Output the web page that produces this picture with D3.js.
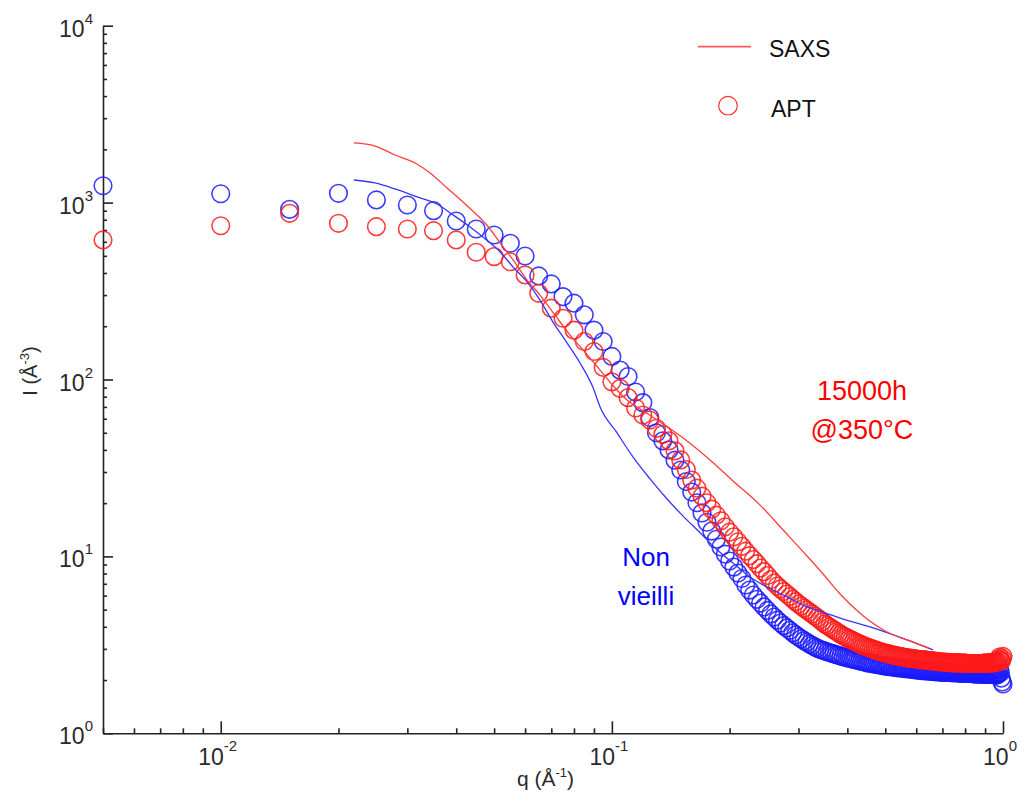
<!DOCTYPE html>
<html><head><meta charset="utf-8">
<script src="https://cdn.jsdelivr.net/npm/d3@7"></script>
<style>body{margin:0;background:#fff}</style>
</head><body>
<svg id="c" width="1028" height="794"></svg>
<script>
// ---- data ----
const qApt = [
0.005,0.01,0.015,0.02,0.025,0.03,0.035,0.04,0.045,0.05,
0.055,0.06,0.065,0.07,0.075,0.08,0.085,0.09,0.095,0.1,
0.105,0.11,0.115,0.12,0.125,0.13,0.135,0.14,0.145,0.15,
0.155,0.16,0.165,0.17,0.175,0.18,0.185,0.19,0.195,0.2,
0.205,0.21,0.215,0.22,0.225,0.23,0.235,0.24,0.245,0.25,
0.255,0.26,0.265,0.27,0.275,0.28,0.285,0.29,0.295,0.3,
0.305,0.31,0.315,0.32,0.325,0.33,0.335,0.34,0.345,0.35,
0.355,0.36,0.365,0.37,0.375,0.38,0.385,0.39,0.395,0.4,
0.405,0.41,0.415,0.42,0.425,0.43,0.435,0.44,0.445,0.45,
0.455,0.46,0.465,0.47,0.475,0.48,0.485,0.49,0.495,0.5,
0.505,0.51,0.515,0.52,0.525,0.53,0.535,0.54,0.545,0.55,
0.555,0.56,0.565,0.57,0.575,0.58,0.585,0.59,0.595,0.6,
0.605,0.61,0.615,0.62,0.625,0.63,0.635,0.64,0.645,0.65,
0.655,0.66,0.665,0.67,0.675,0.68,0.685,0.69,0.695,0.7,
0.705,0.71,0.715,0.72,0.725,0.73,0.735,0.74,0.745,0.75,
0.755,0.76,0.765,0.77,0.775,0.78,0.785,0.79,0.795,0.8,
0.805,0.81,0.815,0.82,0.825,0.83,0.835,0.84,0.845,0.85,
0.855,0.86,0.865,0.87,0.875,0.88,0.885,0.89,0.895,0.9,
0.905,0.91,0.915,0.92,0.925,0.93,0.935,0.94,0.945,0.95,
0.955,0.96,0.965,0.97,0.975,0.98,0.985,0.99,0.995,1.0];

const aptNonVieilli = [
1245,1122,916,1129,1035,969,900,787,709,656,
589,499,385,347,294,270,232,190,164,135,
113,104,85,74,61,50,45,40,35,30.8,
26.5,23.1,20.1,17.6,15.6,13.9,12.5,11.3,10.3,9.42,
8.7,8.05,7.5,6.89,6.45,6.05,5.72,5.45,5.18,4.95,
4.73,4.54,4.36,4.2,4.06,3.94,3.82,3.7,3.6,3.5,
3.42,3.34,3.27,3.2,3.14,3.08,3.03,2.98,2.95,2.92,
2.89,2.86,2.83,2.81,2.78,2.76,2.73,2.71,2.69,2.67,
2.65,2.63,2.62,2.6,2.58,2.57,2.55,2.54,2.52,2.5,
2.49,2.48,2.47,2.46,2.45,2.44,2.43,2.42,2.41,2.4,
2.39,2.39,2.38,2.37,2.37,2.36,2.35,2.35,2.34,2.34,
2.33,2.33,2.32,2.32,2.31,2.31,2.3,2.3,2.29,2.28,
2.28,2.27,2.27,2.27,2.26,2.26,2.26,2.25,2.25,2.25,
2.24,2.24,2.24,2.23,2.23,2.23,2.23,2.22,2.22,2.22,
2.22,2.22,2.21,2.21,2.21,2.21,2.21,2.2,2.2,2.2,
2.2,2.2,2.2,2.19,2.19,2.19,2.19,2.19,2.19,2.19,
2.18,2.18,2.18,2.18,2.18,2.18,2.18,2.17,2.17,2.17,
2.17,2.17,2.17,2.17,2.16,2.16,2.16,2.16,2.16,2.16,
2.16,2.16,2.15,2.15,2.15,2.15,2.15,2.15,2.15,2.15,
2.14,2.14,2.14,2.15,2.2,2.3,2.2,2.05,1.95,1.9];

const apt15000h = [
615,740,870,764,731,709,694,615,524,495,
463,390,307,253,222,190,164,144,117,97,
89,79,69,63,59,53,49,45,39.5,35.1,
31,27,24.3,21.9,20.1,18.5,17.1,15.9,14.7,13.7,
12.9,12.1,11.4,10.7,10.1,9.6,9.1,8.6,8.2,7.8,
7.4,7.07,6.8,6.55,6.33,6.13,5.93,5.73,5.55,5.38,
5.24,5.1,4.97,4.85,4.73,4.61,4.5,4.39,4.27,4.15,
4.07,3.99,3.91,3.83,3.76,3.69,3.62,3.56,3.51,3.46,
3.41,3.37,3.32,3.28,3.24,3.2,3.17,3.13,3.1,3.07,
3.04,3.02,2.99,2.97,2.94,2.92,2.9,2.88,2.86,2.84,
2.83,2.81,2.8,2.78,2.77,2.76,2.74,2.73,2.72,2.71,
2.7,2.69,2.68,2.67,2.66,2.66,2.65,2.64,2.64,2.63,
2.62,2.62,2.61,2.61,2.6,2.6,2.59,2.59,2.58,2.58,
2.57,2.57,2.56,2.56,2.55,2.55,2.54,2.54,2.53,2.53,
2.53,2.53,2.52,2.52,2.52,2.52,2.51,2.51,2.51,2.51,
2.5,2.5,2.5,2.5,2.5,2.49,2.49,2.49,2.49,2.49,
2.49,2.48,2.48,2.48,2.48,2.48,2.48,2.48,2.48,2.48,
2.48,2.48,2.48,2.48,2.48,2.48,2.48,2.49,2.49,2.49,
2.49,2.49,2.49,2.5,2.5,2.5,2.5,2.5,2.51,2.51,
2.52,2.52,2.53,2.55,2.62,2.7,2.6,2.55,2.65,2.72];

const qSaxs15000h = [0.0219,0.0248,0.0279,0.0314,0.0343,0.0379,0.0416,0.0452,0.0479,0.0518,
0.0559,0.0607,0.0655,0.0716,0.0782,0.0844,0.0933,0.1019,0.1093,0.1216,0.1328,0.1521,
0.1782,0.2041,0.2393,0.2741,0.3155,0.3467,0.3832,0.4387,0.5053,0.5684,0.647];
const saxs15000h = [2173,2089,1858,1675,1469,1209,1008,851,747,591,
474,365,300,231,178,147,113,89.5,76.6,65.5,57.5,46.7,
35.1,26.7,19.5,14.1,10.05,7.95,6.13,4.62,3.74,3.37,3.03];

const qSaxsNonVieilli = [0.0219,0.0248,0.0279,0.0318,0.0357,0.0393,0.0434,0.0468,0.0518,0.0559,
0.0607,0.0655,0.0707,0.0768,0.0829,0.0895,0.0933,0.1031,0.1132,0.1252,0.1384,0.1521,
0.1681,0.1857,0.2041,0.2256,0.2493,0.2805,0.3155,0.3405,0.3832,0.4654,0.5684,0.6624];
const saxsNonVieilli = [1342,1291,1194,1076,982,851,728,639,526,432,
356,281,211,161,124,90,70,49.9,36.5,27.4,21.1,16.9,
13.6,10.9,9.18,7.65,6.71,5.9,5.18,4.91,4.48,3.94,3.37,2.96];

const xMajorTicks = [0.01, 0.1, 1];
const xTickExps = ["-2", "-1", "0"];
const yMajorTicks = [1, 10, 100, 1000, 10000];
const yTickExps = ["0", "1", "2", "3", "4"];

const legendLabels = ["SAXS", "APT"];
const annot15000h = ["15000h", "@350°C"];
const annotNonVieilli = ["Non", "vieilli"];

// ---- drawing ----
const RED = "#ff1a1a", BLUE = "#1a1aff";
const svg = d3.select("#c");
const x = d3.scaleLog().domain([0.005, 1]).range([103, 1003]);
const y = d3.scaleLog().domain([1, 10000]).range([733.3, 25.7]);

const isPow10 = v => Math.abs(Math.log10(v) - Math.round(Math.log10(v))) < 1e-9;
const xMinor = x.ticks().filter(v => !isPow10(v));
const yMinor = y.ticks().filter(v => !isPow10(v));

function styleAxis(g) {
  g.selectAll("path,line").attr("stroke", "#222").attr("stroke-width", 1.6);
  g.selectAll("text").remove();
}
// bottom axis
svg.append("g").attr("transform", "translate(0,733.3)")
  .call(d3.axisBottom(x).tickValues(xMajorTicks).tickSizeInner(-12).tickSizeOuter(0).tickFormat(""))
  .call(styleAxis);
svg.append("g").attr("transform", "translate(0,733.3)")
  .call(d3.axisBottom(x).tickValues(xMinor).tickSizeInner(-5).tickSizeOuter(0).tickFormat(""))
  .call(g => g.select(".domain").remove()).call(styleAxis);
// left axis
svg.append("g").attr("transform", "translate(103,0)")
  .call(d3.axisLeft(y).tickValues(yMajorTicks).tickSizeInner(-10).tickSizeOuter(0).tickFormat(""))
  .call(styleAxis);
svg.append("g").attr("transform", "translate(103,0)")
  .call(d3.axisLeft(y).tickValues(yMinor).tickSizeInner(-4).tickSizeOuter(0).tickFormat(""))
  .call(g => g.select(".domain").remove()).call(styleAxis);

const tickFont = "'Liberation Sans', Arial, sans-serif";
// x tick labels
xMajorTicks.forEach((v, i) => {
  const t = svg.append("text").attr("x", x(v) - 3).attr("y", 765)
    .attr("text-anchor", "middle").attr("font-family", tickFont).attr("font-size", 23).attr("fill", "#2a2a2a");
  t.append("tspan").text("10");
  t.append("tspan").attr("dy", -14).attr("font-size", 15).text(xTickExps[i]);
});
// y tick labels
yMajorTicks.forEach((v, i) => {
  const t = svg.append("text").attr("x", 93).attr("y", y(v) + 11)
    .attr("text-anchor", "end").attr("font-family", tickFont).attr("font-size", 23).attr("fill", "#2a2a2a");
  t.append("tspan").text("10");
  t.append("tspan").attr("dy", -13).attr("font-size", 15).text(yTickExps[i]);
});

// axis titles
const xt = svg.append("text").attr("x", 517).attr("y", 786)
  .attr("font-family", tickFont).attr("font-size", 21).attr("fill", "#2a2a2a");
xt.append("tspan").text("q (Å");
xt.append("tspan").attr("dy", -9).attr("font-size", 13).text("-1");
xt.append("tspan").attr("dy", 9).text(")");

const yt = svg.append("text").attr("transform", "translate(37,371) rotate(-90)")
  .attr("text-anchor", "middle")
  .attr("font-family", tickFont).attr("font-size", 20).attr("fill", "#2a2a2a");
yt.append("tspan").text("I (Å");
yt.append("tspan").attr("dy", -8).attr("font-size", 13).text("-3");
yt.append("tspan").attr("dy", 8).text(")");

// APT circles
const aptBlue = qApt.map((q, i) => [q, aptNonVieilli[i]]);
const aptRed = qApt.map((q, i) => [q, apt15000h[i]]);
svg.append("g").selectAll("circle").data(aptBlue).join("circle")
  .attr("cx", d => x(d[0])).attr("cy", d => y(d[1])).attr("r", 8.8)
  .attr("fill", "none").attr("stroke", BLUE).attr("stroke-width", 1.6).attr("stroke-opacity", 0.85);
svg.append("g").selectAll("circle").data(aptRed).join("circle")
  .attr("cx", d => x(d[0])).attr("cy", d => y(d[1])).attr("r", 8.8)
  .attr("fill", "none").attr("stroke", RED).attr("stroke-width", 1.6).attr("stroke-opacity", 0.85);

// SAXS lines
const line = d3.line().x(d => x(d[0])).y(d => y(d[1])).curve(d3.curveMonotoneX);
svg.append("path").datum(qSaxsNonVieilli.map((q, i) => [q, saxsNonVieilli[i]]))
  .attr("d", line).attr("fill", "none").attr("stroke", "#3535ff").attr("stroke-width", 1.3);
svg.append("path").datum(qSaxs15000h.map((q, i) => [q, saxs15000h[i]]))
  .attr("d", line).attr("fill", "none").attr("stroke", "#ff3d3d").attr("stroke-width", 1.3);

// legend
svg.append("line").attr("x1", 698).attr("x2", 751).attr("y1", 46.7).attr("y2", 46.7)
  .attr("stroke", "#ff5a5a").attr("stroke-width", 1.8);
svg.append("circle").attr("cx", 728).attr("cy", 105.7).attr("r", 9.3)
  .attr("fill", "none").attr("stroke", "#ff3030").attr("stroke-width", 1.2);
svg.append("text").attr("x", 769).attr("y", 57).attr("font-family", tickFont)
  .attr("font-size", 23).attr("fill", "#111").text(legendLabels[0]);
svg.append("text").attr("x", 771).attr("y", 117).attr("font-family", tickFont)
  .attr("font-size", 23).attr("fill", "#111").text(legendLabels[1]);

// annotations
annot15000h.forEach((s, i) => svg.append("text").attr("x", 862).attr("y", 400 + i * 39)
  .attr("text-anchor", "middle").attr("font-family", tickFont).attr("font-size", 27)
  .attr("fill", "#ff0000").text(s));
annotNonVieilli.forEach((s, i) => svg.append("text").attr("x", 646).attr("y", 566 + i * 39)
  .attr("text-anchor", "middle").attr("font-family", tickFont).attr("font-size", 26)
  .attr("fill", "#0000ff").text(s));
</script>
</body></html>
